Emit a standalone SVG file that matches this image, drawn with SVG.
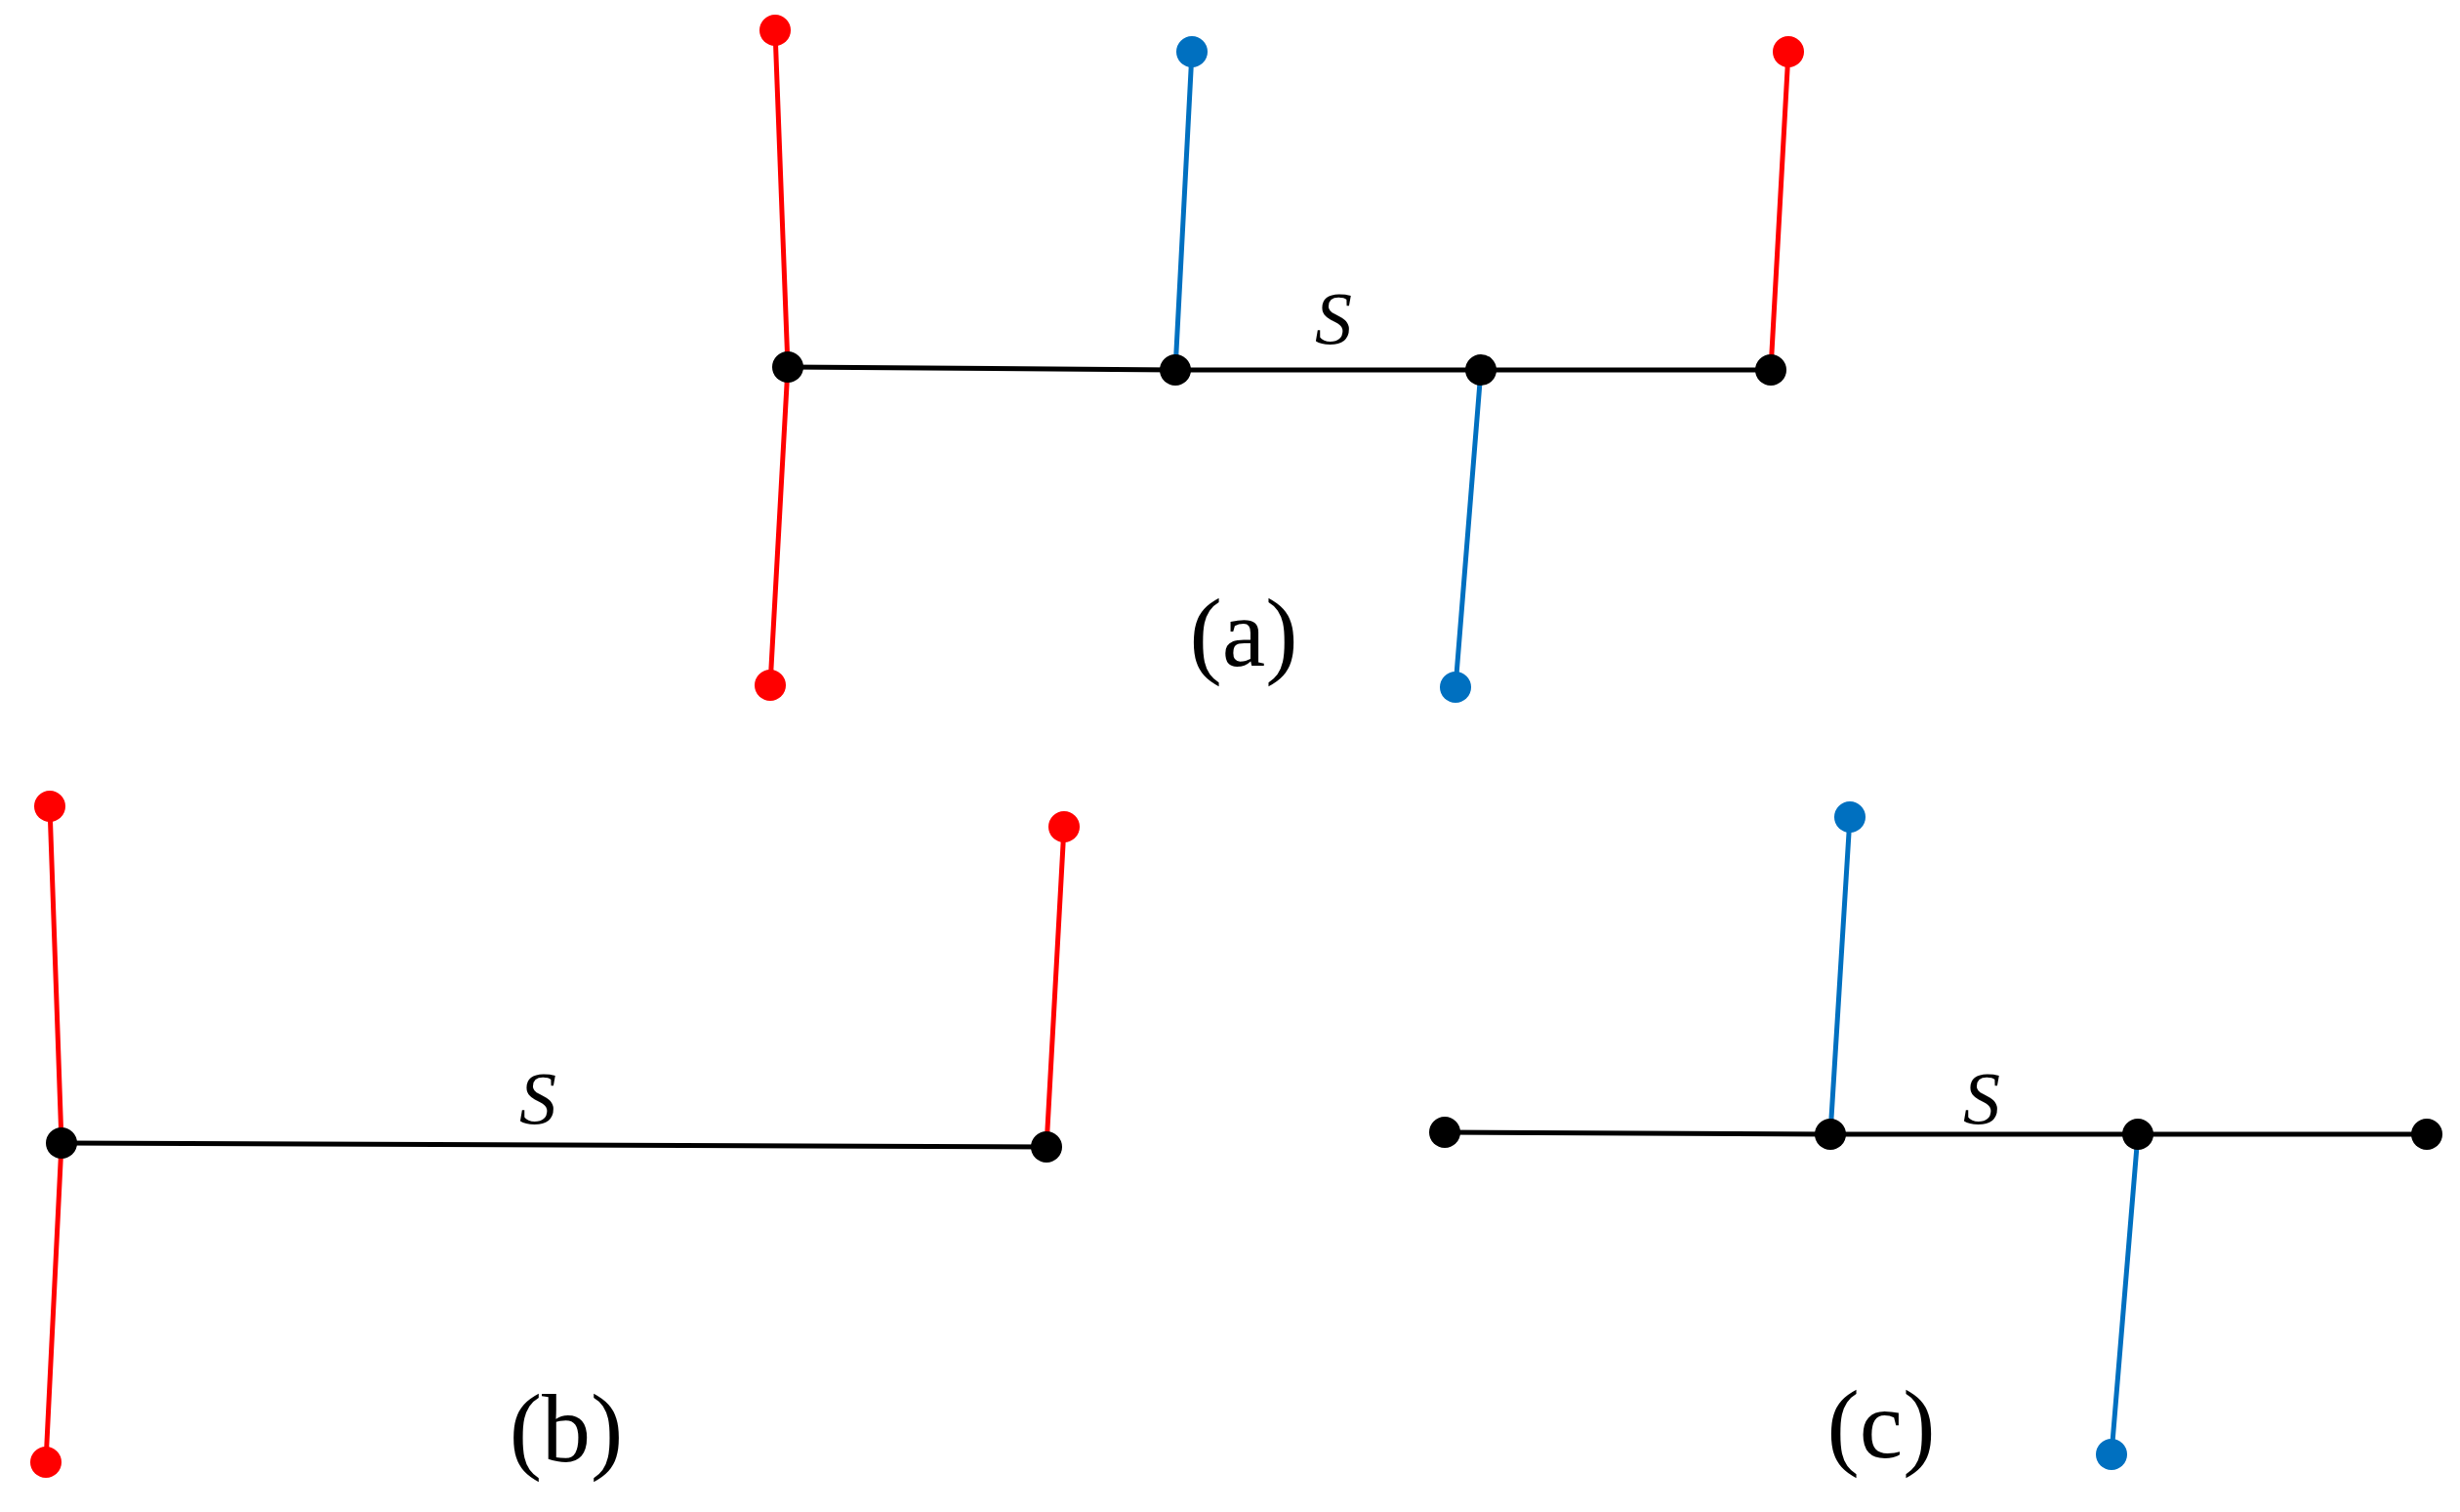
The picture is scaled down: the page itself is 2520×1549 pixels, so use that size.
<svg xmlns="http://www.w3.org/2000/svg" width="2520" height="1549" viewBox="0 0 2520 1549">
<style>
.k{stroke:#000;stroke-width:5;fill:none}
.r{stroke:#ff0000;stroke-width:5;fill:none}
.b{stroke:#0070c0;stroke-width:5;fill:none}
.nk{fill:#000}.nr{fill:#ff0000}.nb{fill:#0070c0}
.s{font-family:"Liberation Serif",serif;font-style:italic;font-size:76px;text-anchor:middle}
.l{font-family:"Liberation Serif",serif;font-size:100px;text-anchor:middle}
</style>
<rect width="2520" height="1549" fill="#fff"/>
<g id="connectors">
<path class="k" d="M807 376L1204 379L1517 379L1814 379"/>
<path class="r" d="M794 31L807 376L789 702M1832 53L1814 379"/>
<path class="b" d="M1221 53L1204 379M1517 379L1491 704"/>
<path class="k" d="M63 1171L1072 1175"/>
<path class="r" d="M51 826L63 1171L47 1498M1090 847L1072 1175"/>
<path class="k" d="M1480 1160L1875 1162L2190 1162L2486 1162"/>
<path class="b" d="M1895 837L1875 1162M2190 1162L2163 1490"/>
</g>
<g id="nodes-a">
<circle class="nk" cx="807" cy="376" r="16"/><circle class="nk" cx="1204" cy="379" r="16"/><circle class="nk" cx="1517" cy="379" r="16"/><circle class="nk" cx="1814" cy="379" r="16"/>
<circle class="nr" cx="794" cy="31" r="16"/><circle class="nr" cx="789" cy="702" r="16"/><circle class="nr" cx="1832" cy="53" r="16"/>
<circle class="nb" cx="1221" cy="53" r="16"/><circle class="nb" cx="1491" cy="704" r="16"/>
</g>
<g id="nodes-b">
<circle class="nk" cx="63" cy="1171" r="16"/><circle class="nk" cx="1072" cy="1175" r="16"/>
<circle class="nr" cx="51" cy="826" r="16"/><circle class="nr" cx="47" cy="1498" r="16"/><circle class="nr" cx="1090" cy="847" r="16"/>
</g>
<g id="nodes-c">
<circle class="nk" cx="1480" cy="1160" r="16"/><circle class="nk" cx="1875" cy="1162" r="16"/><circle class="nk" cx="2190" cy="1162" r="16"/><circle class="nk" cx="2486" cy="1162" r="16"/>
<circle class="nb" cx="1895" cy="837" r="16"/><circle class="nb" cx="2163" cy="1490" r="16"/>
</g>
<g id="labels">
<text class="s" x="1366" y="352">S</text>
<text class="l" x="1274" y="682">(a)</text>
<text class="s" x="551" y="1151">S</text>
<text class="l" x="580" y="1497">(b)</text>
<text class="s" x="2030" y="1151">S</text>
<text class="l" x="1927" y="1493">(c)</text>
</g>
</svg>
